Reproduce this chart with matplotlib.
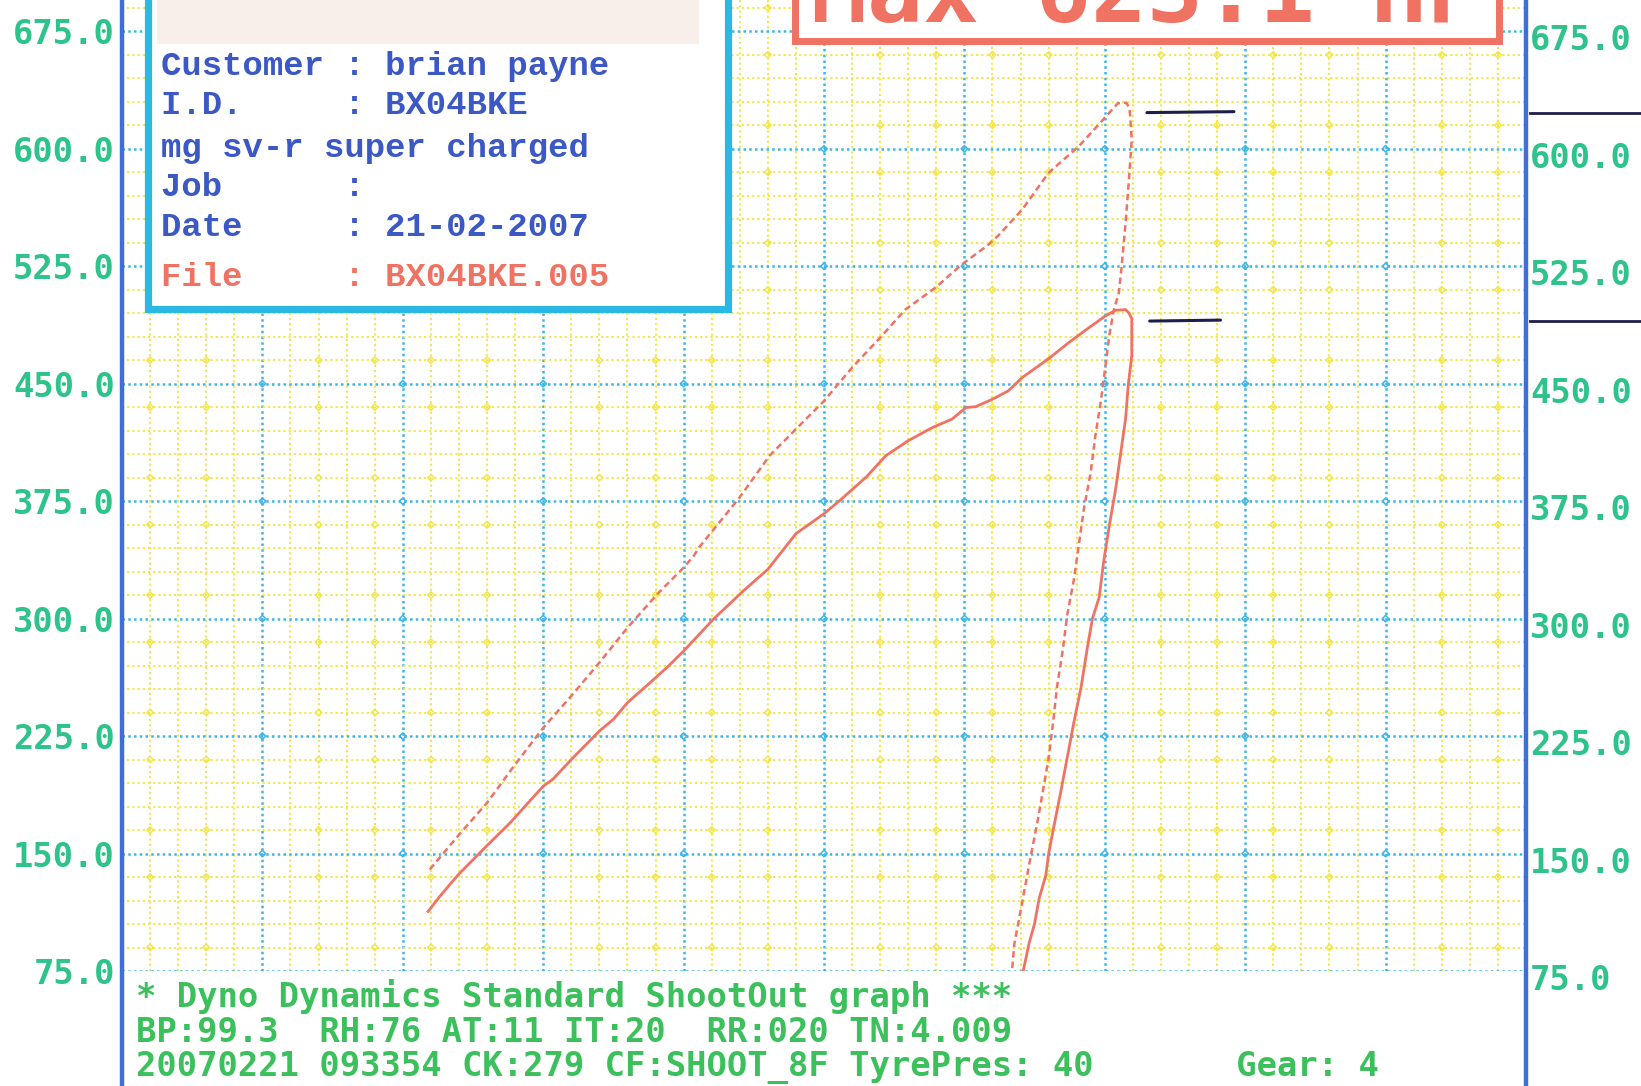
import matplotlib
matplotlib.use('Agg')
import matplotlib.pyplot as plt
from matplotlib.patches import Rectangle
from matplotlib.transforms import ScaledTranslation, blended_transform_factory
import numpy as np

# ---------------- data (read from the scanned dyno sheet) ----------------
# x axis: road speed (km/h, unlabeled on the sheet), y axis: power / tractive
power_speed = [54.8, 60.0, 65.0, 70.0, 75.0, 80.0, 85.0, 90.0, 95.3, 100.0,
               101.8, 102.8, 110.0, 115.3, 120.0, 125.0, 130.0, 135.0, 139.5, 144.8,
               149.5, 154.3, 156.2, 160.3, 165.0, 170.4, 175.0, 177.3, 178.8, 179.4,
               179.8, 179.3, 178.7, 178.0, 177.5, 176.6, 175.8, 175.1, 174.3, 173.3,
               172.5, 171.3, 170.4, 169.5, 168.3, 167.5, 166.5, 165.8, 165.0, 163.9,
               163.0, 161.9, 160.8, 159.8, 158.9, 158.4]
power_hp = [139.8, 162.0, 182.4, 206.9, 230.3, 250.6, 271.9, 294.2, 315.6, 332.6,
            340.0, 345.7, 377.5, 404.0, 421.0, 439.0, 460.3, 479.4, 497.4, 511.2,
            526.0, 538.8, 545.2, 561.2, 584.7, 601.7, 619.8, 629.0, 629.4, 626.2,
            606.0, 580.4, 552.7, 525.0, 508.0, 497.0, 481.0, 461.0, 439.0, 416.3,
            393.5, 370.7, 347.9, 325.0, 302.3, 279.5, 256.7, 233.9, 211.0, 188.3,
            170.0, 150.0, 128.7, 109.5, 92.5, 72.0]

tract_speed = [54.5, 56.6, 59.9, 64.9, 69.1, 75.0, 76.8, 80.0, 85.0, 87.5,
               90.0, 94.0, 97.3, 100.0, 105.3, 110.3, 115.0, 120.0, 125.0, 127.8,
               132.5, 136.0, 140.0, 144.3, 147.8, 150.3, 152.0, 155.0, 157.8, 160.3,
               165.0, 168.5, 171.5, 175.0, 176.9, 178.7, 179.3, 179.8, 179.8, 179.2,
               178.7, 177.8, 176.9, 175.8, 174.8, 174.0, 172.8, 171.8, 170.8, 169.5,
               168.3, 167.1, 165.8, 165.0, 164.5, 163.3, 162.5, 161.5, 160.3]
tract_val = [113.0, 122.7, 136.6, 154.7, 169.6, 193.0, 197.7, 210.0, 228.2, 235.7,
             246.3, 259.0, 269.7, 279.3, 299.6, 316.6, 331.5, 354.2, 367.0, 375.4,
             390.3, 404.0, 413.6, 422.0, 427.4, 434.8, 435.3, 440.1, 445.4, 453.9,
             466.0, 476.0, 484.0, 493.0, 496.9, 497.3, 495.2, 491.5, 467.6, 450.0,
             427.7, 404.9, 382.0, 359.3, 336.5, 313.7, 300.0, 279.5, 256.7, 233.9,
             211.1, 188.3, 164.9, 150.0, 136.2, 121.2, 105.3, 92.5, 72.0]

y_ticks = [75, 150, 225, 300, 375, 450, 525, 600, 675]
y_tick_labels = ['75.0', '150.0', '225.0', '300.0', '375.0', '450.0', '525.0', '600.0', '675.0']

pen_levels = [623.1, 490.0]
title_text = 'Max 623.1 HP'
info_lines = ['Customer : brian payne',
              'I.D.     : BX04BKE',
              'mg sv-r super charged',
              'Job      :',
              'Date     : 21-02-2007',
              'File     : BX04BKE.005']
footer_lines = ['* Dyno Dynamics Standard ShootOut graph ***',
                'BP:99.3  RH:76 AT:11 IT:20  RR:020 TN:4.009',
                '20070221 093354 CK:279 CF:SHOOT_8F TyrePres: 40       Gear: 4']

# ---------------- styling ----------------
W, H = 1641, 1086
BLUE_GRID = '#3cb6e6'
YELLOW = '#f3e64a'
AXIS_BLUE = '#3f6fd6'
LABEL_GREEN = '#2ec38a'
FOOT_GREEN = '#3cc05c'
INFO_BLUE = '#3b58c4'
SALMON = '#f07262'
CYAN = '#2bb8e4'
PEN = '#1e1e4e'
MONO = 'DejaVu Sans Mono'

fig = plt.figure(figsize=(W / 100, H / 100), dpi=100)
fig.patch.set_facecolor('white')

ax_left, ax_right = 122, 1526
ax_bottom_px = 971
ax = fig.add_axes([ax_left / W, (H - ax_bottom_px) / H, (ax_right - ax_left) / W, ax_bottom_px / H])
ax.set_xlim(0, 250)
ax.set_ylim(75, 695)

ax.set_xticks(np.arange(0, 251, 25))
ax.set_xticks(np.arange(0, 251, 5), minor=True)
ax.set_yticks(y_ticks)
ax.set_yticks(np.arange(75, 696, 15), minor=True)
ax.set_yticklabels(y_tick_labels)
ax.tick_params(axis='x', which='both', length=0, labelbottom=False)
ax.tick_params(axis='y', which='both', length=0)
ax.tick_params(axis='y', which='major', pad=5, labelsize=24.4, labelcolor=LABEL_GREEN)
for lab in ax.get_yticklabels():
    lab.set_fontfamily(MONO)
    lab.set_fontweight('bold')

for s in ax.spines.values():
    s.set_visible(False)

# grid
ax.grid(which='minor', color=YELLOW, linestyle=(0, (1, 1.5)), linewidth=1.5, zorder=0)
ax.grid(which='major', color=BLUE_GRID, linestyle=(0, (1, 1.3)), linewidth=1.8, zorder=0.5)
ax.set_axisbelow(True)

# small diamond marks on the grid
maj_x = np.arange(0, 251, 25)
dx = np.arange(5, 250, 10)
dx = dx[(dx % 25) != 0]
dy = np.concatenate([np.arange(90, 696, 75), np.arange(135, 696, 75)])
DX, DY = np.meshgrid(dx, dy)
ax.scatter(DX.ravel(), DY.ravel(), s=11, marker='D', facecolors='none',
           edgecolors=YELLOW, linewidths=1.1, zorder=0.6)
MX, MY = np.meshgrid(maj_x[1:-1], y_ticks[1:])
ax.scatter(MX.ravel(), MY.ravel(), s=11, marker='D', facecolors='none',
           edgecolors=BLUE_GRID, linewidths=1.1, zorder=0.7)

# right axis labels
ax2 = ax.twinx()
ax2.set_ylim(ax.get_ylim())
ax2.set_yticks(y_ticks)
ax2.set_yticklabels(y_tick_labels)
ax2.tick_params(axis='y', length=0, pad=3, labelsize=24.4, labelcolor=LABEL_GREEN)
for s in ax2.spines.values():
    s.set_visible(False)
off = ScaledTranslation(0, -6 / 100, fig.dpi_scale_trans)
for lab in ax2.get_yticklabels():
    lab.set_fontfamily(MONO)
    lab.set_fontweight('bold')
    lab.set_transform(lab.get_transform() + off)

# vertical axis bars running the full sheet height
for xv in (0, 250):
    ax.axvline(xv, ymin=-0.13, ymax=1.0, color=AXIS_BLUE, lw=3.2, clip_on=False, zorder=3)

# curves
ax.plot(power_speed, power_hp, color=SALMON, lw=1.8, linestyle=(0, (2.6, 1.6)), zorder=4)
ax.plot(tract_speed, tract_val, color=SALMON, lw=2.0, zorder=4)

# hand-drawn pen marks at the peaks
for lvl, (x0, x1) in zip(pen_levels, [(182.5, 198.0), (183.0, 195.6)]):
    ax.plot([x0, x1], [lvl, lvl + 0.6], color=PEN, lw=2.2, solid_capstyle='round', zorder=5)
bt = blended_transform_factory(ax.transAxes, ax.transData)
for lvl in pen_levels:
    ax.plot([1.003, 1.085], [lvl, lvl], color=PEN, lw=2.0, transform=bt, clip_on=False, zorder=5)

# info box
fig.add_artist(Rectangle((147.5 / W, 1 - 308.5 / H), (727.5 - 147.5) / W, 0.5,
                         transform=fig.transFigure, facecolor='white', edgecolor=CYAN,
                         linewidth=5.2, zorder=6))
fig.add_artist(Rectangle((157 / W, 1 - 44 / H), (699 - 157) / W, 0.2,
                         transform=fig.transFigure, facecolor='#f9efea', edgecolor='none',
                         zorder=6.5))
info_y = [66, 106, 148, 187, 228, 277]
for txt, yy in zip(info_lines, info_y):
    col = SALMON if txt.startswith('File') else INFO_BLUE
    fig.text(161 / W, 1 - yy / H, txt, ha='left', va='center', fontsize=24.4,
             family='Liberation Mono', fontweight='bold', color=col, zorder=7)

# red max box (partially cut at the top of the sheet, as on the scan)
fig.add_artist(Rectangle((795 / W, 1 - 41 / H), (1499 - 795) / W, 0.5,
                         transform=fig.transFigure, facecolor='white', edgecolor=SALMON,
                         linewidth=5.0, zorder=6))
fig.text(811 / W, 1 - 22 / H, title_text, ha='left', va='baseline', fontsize=67,
         family=MONO, fontweight='bold', color=SALMON, zorder=7)

# footer text
foot_y = [996, 1032, 1067]
for txt, yy in zip(footer_lines, foot_y):
    fig.text(136 / W, 1 - yy / H, txt, ha='left', va='center', fontsize=24.4,
             family=MONO, fontweight='bold', color=FOOT_GREEN, zorder=7)

fig.savefig('out.png', dpi=100, facecolor='white')
